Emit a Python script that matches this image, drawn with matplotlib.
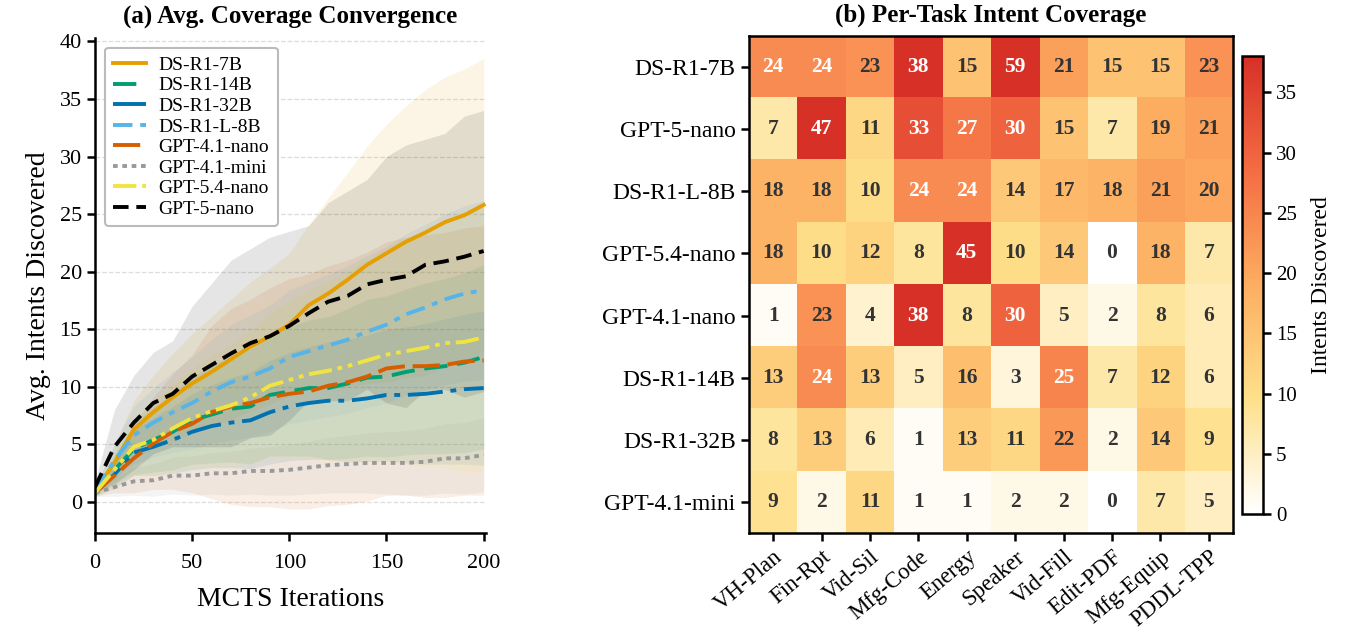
import numpy as np
import matplotlib
matplotlib.use("Agg")
import matplotlib.pyplot as plt
from matplotlib.colors import LinearSegmentedColormap

plt.rcParams['font.family'] = ['Liberation Serif', 'DejaVu Serif']

# ---- panel (a): coverage convergence, read every 10 iterations ----
iterations = [0, 10, 20, 30, 40, 50, 60, 70, 80, 90, 100,
              110, 120, 130, 140, 150, 160, 170, 180, 190, 200]

models = ["DS-R1-7B", "DS-R1-14B", "DS-R1-32B", "DS-R1-L-8B",
          "GPT-4.1-nano", "GPT-4.1-mini", "GPT-5.4-nano", "GPT-5-nano"]

mean_ds7b = [1.0, 3.4, 6.3, 7.8, 9.1, 10.3, 11.3, 12.4, 13.5, 14.4, 15.4,
             17.1, 18.1, 19.3, 20.6, 21.6, 22.6, 23.4, 24.3, 24.9, 25.8]
mean_ds14b = [0.8, 2.8, 4.6, 5.4, 6.1, 7.1, 7.6, 8.1, 8.3, 9.3, 9.6,
              9.9, 9.9, 10.3, 10.8, 10.9, 11.3, 11.6, 11.8, 12.1, 12.6]
mean_ds32b = [0.8, 2.4, 4.3, 4.8, 5.4, 6.1, 6.6, 6.9, 7.1, 7.8, 8.3,
              8.6, 8.8, 8.8, 9.0, 9.3, 9.3, 9.4, 9.6, 9.8, 9.9]
mean_dsl8b = [1.0, 3.6, 5.8, 6.9, 7.8, 8.6, 9.6, 10.4, 10.9, 11.6, 12.6,
              13.1, 13.6, 14.1, 14.8, 15.4, 16.3, 16.9, 17.6, 18.1, 18.4]
mean_g41nano = [0.8, 2.3, 3.8, 5.1, 6.1, 6.8, 7.8, 8.3, 8.6, 9.1, 9.4,
                9.6, 10.1, 10.4, 10.9, 11.6, 11.8, 11.8, 11.9, 12.2, 12.3]
mean_g41mini = [0.8, 1.3, 1.8, 1.9, 2.3, 2.3, 2.5, 2.5, 2.7, 2.7, 2.8,
                3.0, 3.2, 3.3, 3.4, 3.4, 3.4, 3.5, 3.8, 3.8, 4.1]
mean_g54nano = [0.8, 2.8, 4.8, 5.4, 6.4, 7.3, 7.9, 8.4, 9.1, 10.1, 10.6,
                11.1, 11.4, 11.8, 12.3, 12.8, 13.1, 13.4, 13.8, 13.9, 14.3]
mean_g5nano = [1.3, 4.8, 6.9, 8.6, 9.4, 10.9, 11.9, 12.9, 13.8, 14.4, 15.3,
               16.4, 17.4, 17.9, 18.9, 19.3, 19.6, 20.6, 20.9, 21.3, 21.8]

std_ds7b = [0.3, 1.5, 2.5, 3.2, 3.8, 4.3, 4.8, 5.2, 5.6, 5.9, 6.2,
            7.0, 8.3, 9.3, 10.3, 11.2, 11.8, 12.4, 12.6, 12.7, 12.7]
std_ds14b = [0.3, 1.3, 2.2, 2.8, 3.3, 3.8, 4.2, 4.6, 5.0, 5.3, 5.6,
             5.9, 6.2, 6.5, 6.8, 7.0, 7.2, 7.4, 7.6, 7.8, 8.0]
std_ds32b = [0.3, 1.2, 2.0, 2.5, 2.9, 3.3, 3.6, 3.9, 4.2, 4.5, 4.7,
             4.9, 5.1, 5.3, 5.5, 5.7, 5.9, 6.1, 6.3, 6.5, 6.7]
std_dsl8b = [0.3, 1.5, 2.5, 3.0, 3.5, 4.0, 4.5, 5.0, 5.3, 5.5, 5.8,
             6.0, 6.2, 6.4, 6.6, 6.8, 7.0, 7.2, 7.4, 7.6, 7.8]
std_g41nano = [0.3, 1.5, 3.0, 4.0, 5.0, 6.0, 7.5, 8.5, 9.0, 9.5, 10.0,
               10.2, 10.4, 10.6, 10.8, 11.0, 11.2, 11.4, 11.5, 11.6, 11.7]
std_g41mini = [0.3, 0.8, 1.2, 1.4, 1.6, 1.7, 1.8, 1.9, 2.0, 2.1, 2.2,
               2.3, 2.4, 2.5, 2.6, 2.7, 2.8, 2.9, 3.0, 3.1, 3.2]
std_g54nano = [0.3, 1.5, 2.5, 3.2, 3.8, 4.3, 4.8, 5.3, 5.8, 6.3, 6.8,
               7.3, 7.8, 8.3, 8.8, 9.3, 9.8, 10.3, 10.8, 11.3, 11.7]
std_g5nano = [0.5, 3.2, 4.1, 4.4, 4.6, 6.1, 7.1, 8.1, 8.2, 8.6, 8.2,
              7.6, 8.6, 9.1, 9.1, 10.7, 11.4, 10.9, 11.1, 12.2, 12.2]

means = [mean_ds7b, mean_ds14b, mean_ds32b, mean_dsl8b,
         mean_g41nano, mean_g41mini, mean_g54nano, mean_g5nano]
stds = [std_ds7b, std_ds14b, std_ds32b, std_dsl8b,
        std_g41nano, std_g41mini, std_g54nano, std_g5nano]

colors = ["#E69F00", "#009E73", "#0072B2", "#56B4E9",
          "#D55E00", "#999999", "#F0E442", "#000000"]
styles = ["-", (0, (6, 2.5)), (0, (9, 2, 1.5, 2)), (0, (5, 2, 1.5, 2)),
          (0, (7, 2)), (0, (1.2, 1.2)), (0, (6, 1.5, 1.2, 1.5, 1.2, 1.5)),
          (0, (4, 2))]

# ---- panel (b): per-task heatmap ----
row_labels = ["DS-R1-7B", "GPT-5-nano", "DS-R1-L-8B", "GPT-5.4-nano",
              "GPT-4.1-nano", "DS-R1-14B", "DS-R1-32B", "GPT-4.1-mini"]
task_labels = ["VH-Plan", "Fin-Rpt", "Vid-Sil", "Mfg-Code", "Energy",
               "Speaker", "Vid-Fill", "Edit-PDF", "Mfg-Equip", "PDDL-TPP"]
coverage = [
    [24, 24, 23, 38, 15, 59, 21, 15, 15, 23],
    [7, 47, 11, 33, 27, 30, 15, 7, 19, 21],
    [18, 18, 10, 24, 24, 14, 17, 18, 21, 20],
    [18, 10, 12, 8, 45, 10, 14, 0, 18, 7],
    [1, 23, 4, 38, 8, 30, 5, 2, 8, 6],
    [13, 24, 13, 5, 16, 3, 25, 7, 12, 6],
    [8, 13, 6, 1, 13, 11, 22, 2, 14, 9],
    [9, 2, 11, 1, 1, 2, 2, 0, 7, 5],
]

fig = plt.figure(figsize=(13.47, 6.31), dpi=100)

# (a)
ax = fig.add_axes([0.0705, 0.155, 0.29, 0.785])
x = np.array(iterations)
for name, m, s, c, ls in zip(models, means, stds, colors, styles):
    m = np.array(m)
    s = np.array(s)
    ax.fill_between(x, m - s, m + s, color=c, alpha=0.1, linewidth=0)
for name, m, c, ls in zip(models, means, colors, styles):
    ax.plot(x, m, color=c, linestyle=ls, linewidth=2.8, label=name)

ax.set_xlim(0, 201)
ax.set_ylim(-2.7, 40.3)
ax.set_xticks([0, 50, 100, 150, 200])
ax.set_yticks([0, 5, 10, 15, 20, 25, 30, 35, 40])
ax.yaxis.grid(True, linestyle="--", color="#dddddd", linewidth=0.9)
ax.set_axisbelow(True)
for sp in ["top", "right"]:
    ax.spines[sp].set_visible(False)
for sp in ["left", "bottom"]:
    ax.spines[sp].set_linewidth(1.8)
ax.tick_params(labelsize=16, width=1.8, length=6)
ax.tick_params(axis="x", pad=9)
ax.set_xlabel("MCTS Iterations", fontsize=20, labelpad=10)
ax.set_ylabel("Avg. Intents Discovered", fontsize=20, labelpad=6)
ax.set_title("(a) Avg. Coverage Convergence", fontsize=18, fontweight="bold", pad=10)
leg = ax.legend(loc="upper left", fontsize=14, handlelength=1.7,
                handletextpad=0.6, borderpad=0.45, labelspacing=0.15,
                framealpha=1.0)
leg.get_frame().set_edgecolor("#bbbbbb")
leg.get_frame().set_linewidth(1.5)

# (b)
cmap = LinearSegmentedColormap.from_list(
    "cov", ["#ffffff", "#fee08b", "#fdae61", "#f46d43", "#d73027"])
hx = fig.add_axes([0.556, 0.1553, 0.3594, 0.7877])
data = np.array(coverage)
im = hx.imshow(data, cmap=cmap, vmin=0, vmax=38, aspect="auto")
for i in range(data.shape[0]):
    for j in range(data.shape[1]):
        v = data[i, j]
        hx.text(j, i, str(v), ha="center", va="center", fontsize=15.5,
                fontweight="bold", color="white" if v >= 24 else "#333333")
hx.set_xticks(range(len(task_labels)))
hx.set_xticklabels(task_labels, rotation=40, ha="right", rotation_mode="anchor",
                   fontsize=16.5)
hx.set_yticks(range(len(row_labels)))
hx.set_yticklabels(row_labels, fontsize=17)
hx.tick_params(width=1.8, length=6)
for sp in hx.spines.values():
    sp.set_linewidth(1.8)
hx.set_title("(b) Per-Task Intent Coverage", fontsize=18, fontweight="bold", pad=10)

cax = fig.add_axes([0.922, 0.1854, 0.0156, 0.7256])
cb = fig.colorbar(im, cax=cax)
cb.set_ticks([0, 5, 10, 15, 20, 25, 30, 35])
cb.ax.tick_params(labelsize=15, width=1.8, length=6)
cb.outline.set_linewidth(1.8)
cb.set_label("Intents Discovered", fontsize=17, labelpad=10)

fig.savefig("out.png", dpi=100)
